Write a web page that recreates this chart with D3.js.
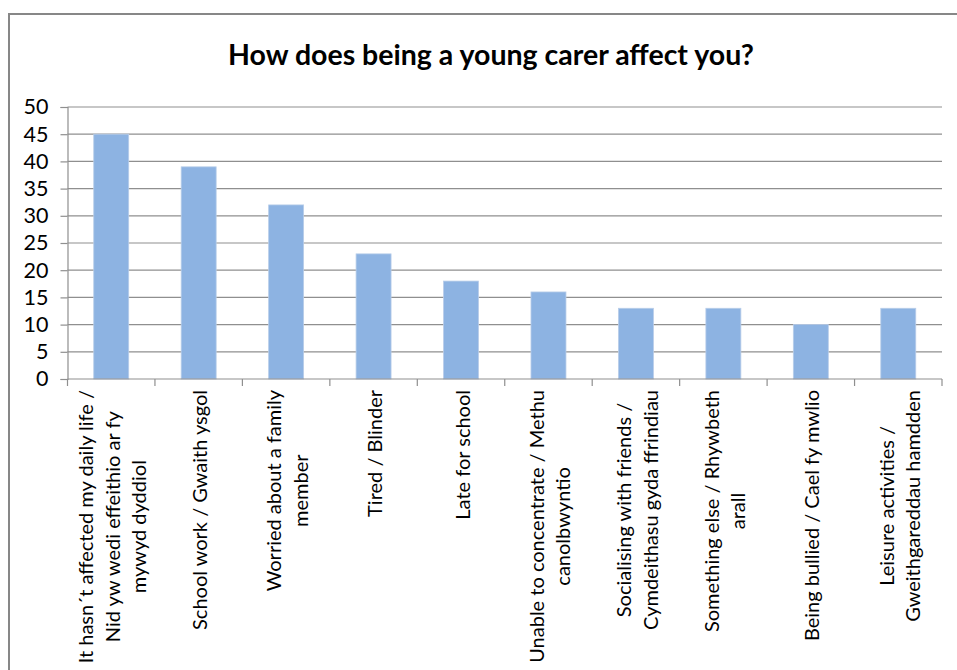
<!DOCTYPE html>
<meta charset="utf-8">
<html lang="en"></html>

<!-- load d3.js -->
<script src="https://d3js.org/d3.v7.min.js"></script>

<style>
    body { margin: 0; background: #fff; }
    svg { display: block; }
</style>

<div id="chart"></div>

<script>

    // chart data
    const categories = [
        ["It hasn\u00b4t affected my daily life /", "Nid yw wedi effeithio ar fy", "mywyd dyddiol"],
        ["School work / Gwaith ysgol"],
        ["Worried about a family", "member"],
        ["Tired / Blinder"],
        ["Late for school"],
        ["Unable to concentrate / Methu", "canolbwyntio"],
        ["Socialising with friends /", "Cymdeithasu gyda ffrindiau"],
        ["Something else  / Rhywbeth", "arall"],
        ["Being bullied / Cael fy mwlio"],
        ["Leisure activities /", "Gweithgareddau hamdden"]
    ];
    const values = [45, 39, 32, 23, 18, 16, 13, 13, 10, 13];
    const yTicks = [0, 5, 10, 15, 20, 25, 30, 35, 40, 45, 50];
    const title = "How does being a young carer affect you?";

    // dimensions
    const W = 957, H = 670;
    const margin = {top: 107, right: 15, bottom: 291, left: 67.5};
    const width = W - margin.left - margin.right,
        height = H - margin.top - margin.bottom;
    const font = "Lato, 'Open Sans', sans-serif";

    const svg = d3.select("#chart")
        .append("svg")
            .attr("width", W)
            .attr("height", H);

    // outer chart border
    svg.append("rect")
        .attr("x", 9)
        .attr("y", 14)
        .attr("width", W + 20)
        .attr("height", H + 20)
        .attr("fill", "#fff")
        .attr("stroke", "#878787")
        .attr("stroke-width", 2);

    // title
    svg.append("text")
        .text(title)
        .attr("x", 491)
        .attr("y", 65)
        .attr("text-anchor", "middle")
        .style("font-family", font)
        .style("font-weight", "bold")
        .style("font-size", "28.5px")
        .attr("fill", "#000");

    const g = svg.append("g")
        .attr("transform", "translate(" + margin.left + "," + margin.top + ")");

    // scales
    const x = d3.scaleBand()
        .domain(d3.range(categories.length))
        .range([0, width])
        .paddingInner(0.6)
        .paddingOuter(0.3);
    const step = x.step();

    const y = d3.scaleLinear()
        .domain([0, 50])
        .range([height, 0]);

    // gridlines
    g.append("g")
        .selectAll("line")
        .data(yTicks.filter(function(d) { return d > 0; }))
        .enter()
        .append("line")
            .attr("x1", 0)
            .attr("x2", width)
            .attr("y1", function(d) { return y(d); })
            .attr("y2", function(d) { return y(d); })
            .attr("stroke", "#8f8f8f")
            .attr("stroke-width", 1.2);

    // bars
    g.selectAll("rect.bar")
        .data(values)
        .enter()
        .append("rect")
            .attr("class", "bar")
            .attr("x", function(d, i) { return x(i); })
            .attr("y", function(d) { return y(d); })
            .attr("width", x.bandwidth())
            .attr("height", function(d) { return height - y(d); })
            .attr("fill", "#8db3e2")
            .attr("stroke", "#b8cde9")
            .attr("stroke-width", 0.8);

    // Y axis
    const yAxis = g.append("g")
        .call(d3.axisLeft(y).tickValues(yTicks).tickSize(7).tickPadding(12));
    yAxis.select(".domain").attr("stroke", "#8f8f8f").attr("stroke-width", 1.2);
    yAxis.selectAll(".tick line").attr("stroke", "#8f8f8f").attr("stroke-width", 1.2);
    yAxis.selectAll("text")
        .style("font-family", font)
        .style("font-size", "21.5px")
        .attr("fill", "#000");

    // X axis line and ticks at category boundaries
    const xAxis = g.append("g")
        .attr("transform", "translate(0," + height + ")");
    xAxis.append("line")
        .attr("x1", 0)
        .attr("x2", width)
        .attr("stroke", "#8f8f8f")
        .attr("stroke-width", 1.2);
    xAxis.selectAll("line.tick")
        .data(d3.range(categories.length + 1))
        .enter()
        .append("line")
            .attr("class", "tick")
            .attr("x1", function(d) { return d * step; })
            .attr("x2", function(d) { return d * step; })
            .attr("y1", 0)
            .attr("y2", 7)
            .attr("stroke", "#8f8f8f")
            .attr("stroke-width", 1.2);

    // rotated, wrapped category labels
    const lineH = 26.5;
    categories.forEach(function(lines, i) {
        const cx = x(i) + x.bandwidth() / 2 + 1.5;
        const lab = xAxis.append("g")
            .attr("transform", "translate(" + cx + ",0) rotate(-90)");
        const texts = lab.selectAll("text")
            .data(lines)
            .enter()
            .append("text")
                .text(function(d) { return d; })
                .attr("text-anchor", "middle")
                .attr("dy", "0.35em")
                .attr("y", function(d, j) { return (j - (lines.length - 1) / 2) * lineH; })
                .style("font-family", font)
                .style("font-size", "20px")
                .attr("fill", "#000");
        let maxLen = 0;
        texts.each(function() { maxLen = Math.max(maxLen, this.getComputedTextLength()); });
        texts.attr("x", -(11 + maxLen / 2));
    });

</script>
